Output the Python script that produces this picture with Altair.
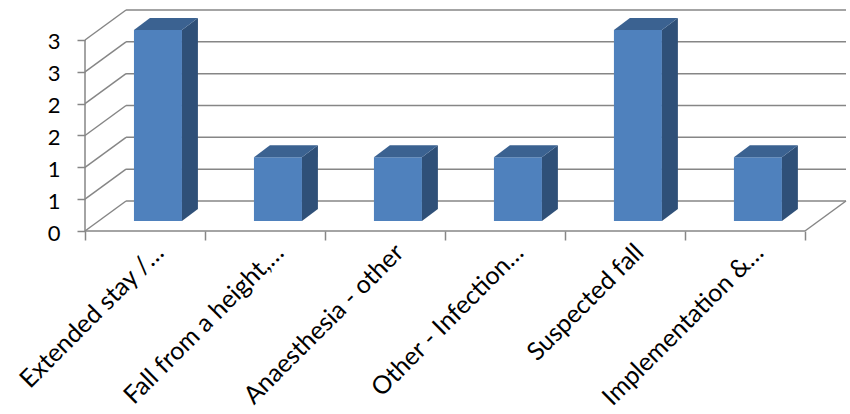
import json
import altair as alt
import pandas as pd

# Incident categories and their counts
categories = [
    "Extended stay /…",
    "Fall from a height,…",
    "Anaesthesia - other",
    "Other  - Infection…",
    "Suspected fall",
    "Implementation &…",
]
values = [3, 1, 1, 1, 3, 1]
y_ticks = [0, 0.5, 1, 1.5, 2, 2.5, 3]

# 3-D box geometry, expressed in data units (1 x-unit = one category slot)
BAR_HALF = 0.2            # half width of a bar
FRONT_DX, FRONT_DY = 0.108, 0.157   # bars sit a little behind the front edge
BAR_DX, BAR_DY = 0.133, 0.188       # depth of each bar
WALL_DX, WALL_DY = 0.342, 0.471     # depth of the floor / side wall

n = len(categories)
X_MAX = n + WALL_DX
Y_MAX = max(y_ticks) + WALL_DY
PX_X, PX_Y = 120, 63.67

GRID = "#868686"
FRONT, SIDE, TOP = "#4F81BD", "#2F5078", "#3B6291"
FONT = "Lato"

x_scale = alt.Scale(domain=[0, X_MAX], nice=False, zero=False)
y_scale = alt.Scale(domain=[0, Y_MAX], nice=False, zero=False)

x_axis_values = [i / 2 for i in range(2 * n + 1)]
label_expr = (
    "datum.value % 1 == 0.5 ? "
    + json.dumps(categories, ensure_ascii=False)
    + "[floor(datum.value)] : ''"
)

X_AXIS = alt.Axis(
    values=x_axis_values,
    labelExpr=label_expr,
    labelAngle=-45,
    labelAlign="right",
    labelBaseline="middle",
    labelOffset=14,
    labelPadding=8,
    labelOverlap=False,
    labelFlush=False,
    labelBound=False,
    labelFont=FONT,
    labelFontSize=25,
    labelColor="#000000",
    labelLimit=400,
    domain=False,
    grid=False,
    tickSize=9,
    tickWidth=1.5,
    tickColor=GRID,
    tickOpacity={"condition": {"test": "datum.value % 1 == 0", "value": 1}, "value": 0},
    title=None,
)
Y_AXIS = alt.Axis(
    values=y_ticks,
    labelExpr="round(datum.value)",
    labelFont=FONT,
    labelFontSize=22,
    labelColor="#000000",
    labelPadding=17,
    labelOffset=2,
    domain=False,
    grid=False,
    tickSize=8,
    tickWidth=1.5,
    tickColor=GRID,
    title=None,
)

# ---- walls, floor and gridlines -------------------------------------------
seg = []
for v in y_ticks:
    seg.append(dict(x=0, x2=WALL_DX, y=v, y2=v + WALL_DY))
    seg.append(dict(x=WALL_DX, x2=X_MAX, y=v + WALL_DY, y2=v + WALL_DY))
seg.append(dict(x=0, x2=n, y=0, y2=0))                      # front floor edge
seg.append(dict(x=n, x2=X_MAX, y=0, y2=WALL_DY))            # right floor edge
seg.append(dict(x=0, x2=0, y=0, y2=max(y_ticks)))           # value axis line
seg = pd.DataFrame(seg)

walls = alt.Chart(seg).mark_rule(color=GRID, strokeWidth=1.5).encode(
    x=alt.X("x:Q", scale=x_scale, axis=X_AXIS),
    x2="x2:Q",
    y=alt.Y("y:Q", scale=y_scale, axis=Y_AXIS),
    y2="y2:Q",
)

# ---- bars -----------------------------------------------------------------
bars = pd.DataFrame({"cat": categories, "idx": range(n), "value": values})
bars["x0"] = bars["idx"] + 0.5 - BAR_HALF + FRONT_DX
bars["x1"] = bars["idx"] + 0.5 + BAR_HALF + FRONT_DX
bars["y0"] = FRONT_DY
bars["y1"] = bars["value"] + FRONT_DY

side_rows, top_rows = [], []
for _, b in bars.iterrows():
    for t in (0, 1):
        side_rows.append(dict(idx=b.idx, sx=b.x1 + t * BAR_DX,
                              sy0=b.y0 + t * BAR_DY, sy1=b.y1 + t * BAR_DY))
        top_rows.append(dict(idx=b.idx, ty=b.y1 + t * BAR_DY,
                             tx0=b.x0 + t * BAR_DX, tx1=b.x1 + t * BAR_DX))
side = pd.DataFrame(side_rows)
top = pd.DataFrame(top_rows)

front_face = alt.Chart(bars).mark_rect(color=FRONT).encode(
    x=alt.X("x0:Q", scale=x_scale, axis=X_AXIS),
    x2="x1:Q",
    y=alt.Y("y0:Q", scale=y_scale, axis=Y_AXIS),
    y2="y1:Q",
)

side_face = alt.Chart(side).mark_area(color=SIDE, orient="vertical").encode(
    x=alt.X("sx:Q", scale=x_scale, axis=X_AXIS),
    y=alt.Y("sy1:Q", scale=y_scale, axis=Y_AXIS, stack=None),
    y2="sy0:Q",
    detail="idx:N",
)

top_face = alt.Chart(top).mark_area(color=TOP, orient="horizontal").encode(
    y=alt.Y("ty:Q", scale=y_scale, axis=Y_AXIS),
    x=alt.X("tx0:Q", scale=x_scale, axis=X_AXIS, stack=None),
    x2="tx1:Q",
    detail="idx:N",
)

chart = (
    alt.layer(walls, front_face, side_face, top_face)
    .properties(
        width=round(X_MAX * PX_X),
        height=round(Y_MAX * PX_Y),
        autosize=alt.AutoSizeParams(type="none"),
        padding={"left": 85, "top": 10, "right": 4, "bottom": 183},
        background="white",
    )
    .configure_view(stroke=None)
)

chart.save("out.html", embed_options={"renderer": "svg", "actions": False})
